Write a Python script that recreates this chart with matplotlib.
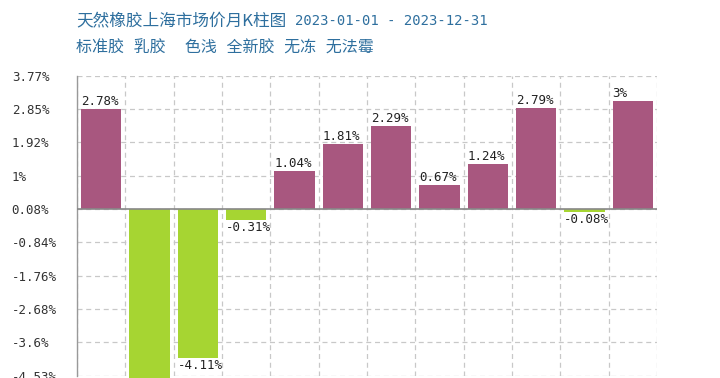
import matplotlib.pyplot as plt
import numpy as np

plt.rcParams['font.family'] = ['DejaVu Sans Mono', 'Noto Sans CJK SC']

# data
months = list(range(1, 13))
changes = [2.78, -5.2, -4.11, -0.31, 1.04, 1.81, 2.29, 0.67, 1.24, 2.79, -0.08, 3.0]
labels = ["2.78%", "", "-4.11%", "-0.31%", "1.04%", "1.81%", "2.29%", "0.67%", "1.24%", "2.79%", "-0.08%", "3%"]
ytick_labels = ["-4.53%", "-3.6%", "-2.68%", "-1.76%", "-0.84%", "0.08%", "1%", "1.92%", "2.85%", "3.77%"]
title1 = "天然橡胶上海市场价月K柱图"
title_dates = "2023-01-01 - 2023-12-31"
title2 = "标准胶 乳胶  色浅 全新胶 无冻 无法霉"

up_color = "#a8577f"
down_color = "#a6d532"

fig = plt.figure(figsize=(7.2, 3.78), dpi=100)
ax = fig.add_axes([77/720, 1-375.7/378, 580/720, 300/378])

ymin, ymax = -4.61, 3.69
ax.set_ylim(ymin, ymax)
ax.set_xlim(0.5, 12.5)

cols = [up_color if v >= 0 else down_color for v in changes]
w = 0.84
bars = ax.bar(months, changes, width=w, color=cols, zorder=3, clip_on=False)

for m, v, lab in zip(months, changes, labels):
    if not lab:
        continue
    x0 = m - w/2
    if v >= 0:
        ax.text(x0, v + 0.03, lab, ha="left", va="bottom", fontsize=9, color="#222222", zorder=4)
    else:
        ax.text(x0, v - 0.03, lab, ha="left", va="top", fontsize=9, color="#222222", zorder=4)

# grid
yt = np.linspace(ymin, ymax, len(ytick_labels))
ax.set_yticks(yt)
ax.set_yticklabels(ytick_labels, ha="left", fontsize=9, color="#333333")
ax.tick_params(axis="y", length=0, pad=47)
ax.set_xticks(np.arange(0.5, 13, 1))
ax.set_xticklabels([])
ax.tick_params(axis="x", length=0)
ax.grid(True, color="#c8c8c8", linestyle=(0, (4, 3)), linewidth=0.9, zorder=0)
ax.axhline(0, color="#888888", linewidth=1.2, zorder=3.5)

for s in ["top", "right", "bottom"]:
    ax.spines[s].set_visible(False)
ax.spines["left"].set_color("#999999")
ax.spines["left"].set_linewidth(1.0)

tcol = "#2e6f9e"
fig.text(76/720, 1-21/378, title1, color=tcol, fontsize=12, va="center", ha="left",
         family=['Noto Sans CJK SC', 'DejaVu Sans Mono'])
fig.text(295/720, 1-21/378, title_dates, color=tcol, fontsize=10, va="center", ha="left",
         family=['DejaVu Sans Mono'])
fig.text(76/720, 1-48/378, title2, color=tcol, fontsize=11.5, va="center", ha="left",
         family=['DejaVu Sans Mono', 'Noto Sans CJK SC'])

fig.savefig("out.png", dpi=100)
